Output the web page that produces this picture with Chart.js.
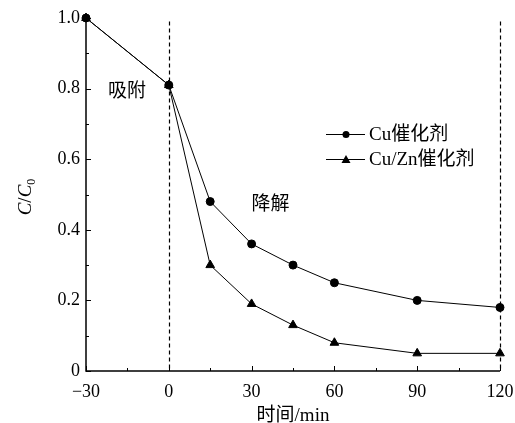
<!DOCTYPE html>
<html><head><meta charset="utf-8">
<script src="https://cdn.jsdelivr.net/npm/chart.js@4/dist/chart.umd.min.js"></script>
<style>html,body{margin:0;padding:0;background:#fff}#wrap{width:515px;height:423px}</style>
</head><body><div id="wrap"><canvas id="c" width="515" height="423"></canvas></div>
<script>
const times = [-30, 0, 15, 30, 45, 60, 90, 120];
const cuValues = [1.0, 0.81, 0.48, 0.36, 0.30, 0.25, 0.20, 0.18];
const cuZnValues = [1.0, 0.81, 0.30, 0.19, 0.13, 0.08, 0.05, 0.05];
const xTicks = [-30, 0, 30, 60, 90, 120];
const yTicks = [0, 0.2, 0.4, 0.6, 0.8, 1.0];
const seriesNames = ['Cu催化剂', 'Cu/Zn催化剂'];
const dividerTimes = [0, 120];
const stageLabels = [{text: '吸附', x: -22, y: 0.79}, {text: '降解', x: 30, y: 0.47}];

const FONT = '"Liberation Serif","Times New Roman","Noto Sans CJK SC",serif';
const toPts = (xs, ys) => xs.map((x, i) => ({x, y: ys[i]}));

const deco = {
  id: 'deco',
  afterDraw(chart) {
    const ctx = chart.ctx, xs = chart.scales.x, ys = chart.scales.y, a = chart.chartArea;
    ctx.save();
    ctx.strokeStyle = '#000';
    ctx.lineWidth = 1.2;
    ctx.setLineDash([4, 3]);
    dividerTimes.forEach(t => {
      const px = Math.round(xs.getPixelForValue(t)) + 0.5;
      ctx.beginPath(); ctx.moveTo(px, ys.getPixelForValue(0.99)); ctx.lineTo(px, a.bottom); ctx.stroke();
    });
    ctx.setLineDash([]);
    ctx.lineWidth = 1.5;
    ctx.beginPath(); ctx.moveTo(a.left, ys.getPixelForValue(1.0)); ctx.lineTo(a.left, a.bottom); ctx.lineTo(xs.getPixelForValue(120), a.bottom); ctx.stroke();
    ctx.lineWidth = 1;
    for (let k = 0; k <= 10; k++) {
      const py = Math.round(ys.getPixelForValue(k / 10)) + 0.5;
      const major = k % 2 === 0;
      ctx.beginPath(); ctx.moveTo(a.left, py); ctx.lineTo(a.left + (major ? 5 : 3), py); ctx.stroke();
    }
    for (let t = -30; t <= 120; t += 15) {
      const px = Math.round(xs.getPixelForValue(t)) + 0.5;
      const major = t % 30 === 0;
      ctx.beginPath(); ctx.moveTo(px, a.bottom); ctx.lineTo(px, a.bottom - (major ? 5 : 3)); ctx.stroke();
    }
    ctx.fillStyle = '#000';
    ctx.font = '19px ' + FONT;
    ctx.textBaseline = 'middle';
    ctx.textAlign = 'left';
    stageLabels.forEach(s => ctx.fillText(s.text, xs.getPixelForValue(s.x), ys.getPixelForValue(s.y)));
    const rows = [{y: 134, style: 'circle'}, {y: 159, style: 'triangle'}];
    rows.forEach((r, i) => {
      ctx.lineWidth = 1;
      ctx.beginPath(); ctx.moveTo(326, r.y + 0.5); ctx.lineTo(365, r.y + 0.5); ctx.stroke();
      ctx.beginPath();
      if (r.style === 'circle') { ctx.arc(346, r.y + 0.5, 3.5, 0, Math.PI * 2); }
      else { ctx.moveTo(346, r.y - 4); ctx.lineTo(350.5, r.y + 4); ctx.lineTo(341.5, r.y + 4); ctx.closePath(); }
      ctx.fill();
      ctx.fillText(seriesNames[i], 369, r.y + 1);
    });
    ctx.save();
    ctx.translate(26, 197);
    ctx.rotate(-Math.PI / 2);
    ctx.textAlign = 'left';
    ctx.textBaseline = 'middle';
    ctx.font = 'italic 19px ' + FONT;
    const w1 = ctx.measureText('C').width;
    ctx.font = '19px ' + FONT;
    const w2 = ctx.measureText('/').width;
    ctx.font = 'italic 19px ' + FONT;
    const w3 = ctx.measureText('C').width;
    ctx.font = '12px ' + FONT;
    const w4 = ctx.measureText('0').width;
    const x0 = -(w1 + w2 + w3 + w4) / 2;
    ctx.font = 'italic 19px ' + FONT; ctx.fillText('C', x0, 0);
    ctx.font = '19px ' + FONT; ctx.fillText('/', x0 + w1, 0);
    ctx.font = 'italic 19px ' + FONT; ctx.fillText('C', x0 + w1 + w2, 0);
    ctx.font = '12px ' + FONT; ctx.fillText('0', x0 + w1 + w2 + w3, 6);
    ctx.restore();
    ctx.restore();
  }
};

new Chart(document.getElementById('c'), {
  type: 'scatter',
  data: {
    datasets: [
      {label: seriesNames[0], data: toPts(times, cuValues), showLine: true, borderColor: '#000', backgroundColor: '#000', borderWidth: 1, pointStyle: 'circle', pointRadius: 4, pointHoverRadius: 4, clip: false},
      {label: seriesNames[1], data: toPts(times, cuZnValues), showLine: true, borderColor: '#000', backgroundColor: '#000', borderWidth: 1, pointStyle: 'triangle', pointRadius: 5, pointHoverRadius: 5, clip: false}
    ]
  },
  options: {
    responsive: false, animation: false,
    layout: {padding: {top: 18, right: 15, left: 0, bottom: 0}},
    plugins: {legend: {display: false}, tooltip: {enabled: false}},
    scales: {
      x: {
        type: 'linear', min: -30, max: 120,
        afterBuildTicks: s => { s.ticks = xTicks.map(v => ({value: v})); },
        afterFit: s => { s.height = 52; s.paddingLeft = 0; s.paddingRight = 0; },
        grid: {display: false, drawTicks: false}, border: {display: false},
        ticks: {color: '#000', padding: 10, font: {family: FONT, size: 18}, maxRotation: 0,
          callback: v => v < 0 ? '\u2212' + Math.abs(v) : String(v)},
        title: {display: true, text: '时间/min', color: '#000', font: {family: FONT, size: 19}, padding: {top: 2, bottom: -4}}
      },
      y: {
        type: 'linear', min: 0, max: 1.0,
        afterBuildTicks: s => { s.ticks = yTicks.map(v => ({value: v})); },
        afterFit: s => { s.width = 86; s.paddingTop = 0; s.paddingBottom = 0; },
        grid: {display: false, drawTicks: false}, border: {display: false},
        ticks: {color: '#000', padding: 6, font: {family: FONT, size: 18},
          callback: v => v === 0 ? '0' : v.toFixed(1)}
      }
    }
  },
  plugins: [deco]
});
</script></body></html>
